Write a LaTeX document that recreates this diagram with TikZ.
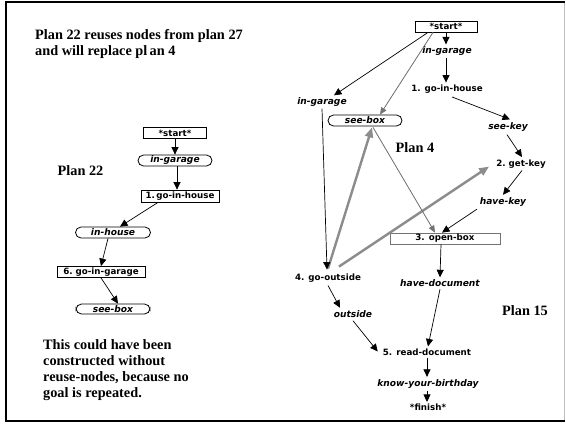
\documentclass[tikz,border=0pt]{standalone}
\usepackage{fontspec}
\setmainfont{Liberation Serif}
\newfontfamily\labelfont{DejaVu Sans}
\usetikzlibrary{arrows.meta,calc}
\definecolor{linkgray}{gray}{0.45}
\definecolor{reusegray}{gray}{0.55}
\definecolor{framegray}{gray}{0.75}
\begin{document}
\begin{tikzpicture}[x=1pt,y=-1pt,
  act/.style={font=\labelfont\bfseries\fontsize{8.7}{9}\selectfont, inner sep=0pt},
  cond/.style={font=\labelfont\bfseries\itshape\fontsize{9.1}{9}\selectfont, inner sep=0pt},
  actbox/.style={act, draw, line width=0.8pt, minimum height=11pt},
  pill/.style={cond, draw, line width=0.8pt, rounded corners=5.5pt, minimum height=11pt},
  note/.style={font=\bfseries\fontsize{14.3}{15.8}\selectfont, align=left, inner sep=0pt},
  arr/.style={-{Triangle[length=7.5pt,width=7pt]}, line width=0.7pt},
  greyarr/.style={-{Triangle[length=7pt,width=6pt]}, line width=0.8pt, draw=linkgray, fill=linkgray},
  reusearr/.style={-{Triangle[length=10pt,width=8pt]}, line width=2.4pt, draw=reusegray, fill=reusegray},
]
\useasboundingbox (0,0) rectangle (566,424);
\fill[white] (0,0) rectangle (566,424);

% frame
\draw[framegray, line width=0.9pt] (564.5,2) -- (564.5,421);
\draw[black, line width=2.4pt] (564.5,2) -- (6,2) -- (6,421) -- (564.5,421);

% captions
\node[note, anchor=north west] (capA) at (35,29) {Plan 22 reuses nodes from plan 27\\and will replace pl\,an 4};
\node[note] (plan22) at (80.5,171) {Plan 22};
\node[note, anchor=north west] (capB) at (43,339.5) {This could have been\\constructed without\\reuse-nodes, because no\\goal is repeated.};
\node[note] (plan4) at (415,147.5) {Plan 4};
\node[note] (plan15) at (525,311) {Plan 15};

% ---- Plan 22 ----
\node[actbox, minimum width=63pt] (s22) at (175,133) {*start*};
\node[pill, minimum width=74pt] (g22) at (175,160.5) {in-garage};
\node[actbox, minimum width=78pt, minimum height=12pt] (h22) at (180,196) {1.\,go-in-house};
\node[pill, minimum width=75pt] (ih22) at (113,232.5) {in-house};
\node[actbox, minimum width=88pt] (gg22) at (101,272) {6.\hspace{3pt}go-in-garage};
\node[pill, minimum width=74pt, minimum height=10pt] (sb22) at (113,309) {see-box};

\draw[arr] (s22) -- (g22);
\draw[arr] ($(g22.south)+(2,0)$) -- ($(h22.north)+(-3,0)$);
\draw[arr] ($(h22.south)+(-22,0)$) -- ($(ih22.north)+(7,0)$);
\draw[arr] ($(ih22.south)+(-5,0)$) -- (gg22.north);
\draw[arr] (gg22.south) -- ($(sb22.north)+(5,0)$);

% ---- Plan 15 ----
\node[actbox, minimum width=62pt] (s15) at (446,26.5) {*start*};
\node[cond] (ig15) at (447,51.5) {in-garage};
\node[act] (gh15) at (447,89.5) {1. go-in-house};
\node[cond] (sk15) at (508,127) {see-key};
\node[act] (gk15) at (521,164) {2.\hspace{3pt}get-key};
\node[cond] (hk15) at (503,202) {have-key};
\node[actbox, draw=linkgray, minimum width=110pt] (ob15) at (445,238.5) {3. open-box};
\node[cond] (hd15) at (440,283) {have-document};
\node[act] (rd15) at (427,352.5) {5. read-document};
\node[cond] (kb15) at (428,384) {know-your-birthday};
\node[act] (fi15) at (428,407.5) {*finish*};
\node[cond] (ig15b) at (322,102) {in-garage};
\node[pill, minimum width=74pt] (sb15) at (365,120.5) {see-box};
\node[act] (go15) at (328,278) {4. go-outside};
\node[cond] (ou15) at (353,314) {outside};

% reuse links (drawn first, under the others)
\draw[reusearr] ($(go15.north)+(0,-5)$) -- ($(sb15.south)+(7,1)$);
\draw[reusearr] ($(go15.north)+(11,-7)$) -- ($(gk15.west)+(-7,2.5)$);
\draw[greyarr] ($(s15.south)+(-13,0)$) -- ($(sb15.north)+(15,0)$);
\draw[greyarr] ($(sb15.south)+(8,1)$) -- ($(ob15.north)+(-10,0)$);

\draw[arr] (s15.south) -- ($(ig15.north)+(-1,-2.5)$);
\draw[arr] ($(ig15.south)+(-1,2)$) -- ($(gh15.north)+(-1,-2.5)$);
\draw[arr] ($(gh15.south)+(5,3)$) -- ($(sk15.north)+(2,-3)$);
\draw[arr] ($(sk15.south)+(-1,3)$) -- ($(gk15.north)+(1,-2.5)$);
\draw[arr] ($(gk15.south)+(1,2)$) -- ($(hk15.north)+(0,-2.5)$);
\draw[arr] ($(hk15.south)+(-26,2.5)$) -- ($(ob15.north)+(-3,0)$);
\draw[arr] ($(s15.south)+(-18,0)$) -- ($(ig15b.north)+(12,-2)$);
\draw[arr] ($(ig15b.south)+(0,2)$) -- ($(go15.north)+(-1,-4)$);
\draw[arr] ($(ob15.south)+(-4,0)$) -- ($(hd15.north)+(0,-2)$);
\draw[arr] ($(hd15.south)+(0,2.5)$) -- ($(rd15.north)+(1,-2.5)$);
\draw[arr] ($(go15.south)+(0,3)$) -- ($(ou15.north)+(-13,-2.5)$);
\draw[arr] ($(ou15.south)+(0,3)$) -- ($(rd15.west)+(-5,-1)$);
\draw[arr] ($(rd15.south)+(0,2)$) -- ($(kb15.north)+(-1,-2.5)$);
\draw[arr] ($(kb15.south)+(-1,2)$) -- ($(fi15.north)+(-1,-2)$);
\end{tikzpicture}
\end{document}
